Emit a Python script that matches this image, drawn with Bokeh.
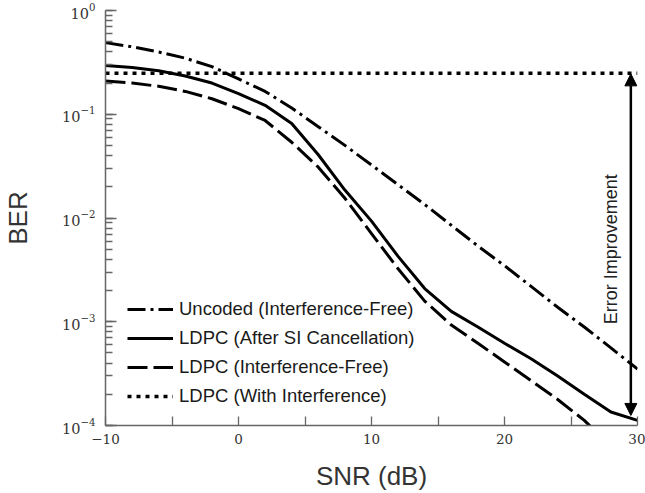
from bokeh.plotting import figure
from bokeh.models import (Range1d, FixedTicker, Legend, LegendItem, Arrow,
                          NormalHead, Label)
from bokeh.embed import file_html
from bokeh.resources import INLINE

# ---- data ----
snr = [-10, -8, -6, -4, -2, 0, 2, 4, 6, 8, 10, 12, 14, 16, 18, 20, 22, 24, 26, 28, 30]
uncoded = [0.490, 0.447, 0.398, 0.347, 0.288, 0.219, 0.166, 0.115, 0.0759, 0.0501,
           0.0324, 0.0209, 0.0135, 0.00851, 0.00537, 0.00347, 0.00219, 0.00138,
           8.9e-4, 5.6e-4, 3.5e-4]
ldpc_si = [0.295, 0.282, 0.263, 0.234, 0.200, 0.158, 0.122, 0.0813, 0.0407, 0.0186,
           0.00933, 0.00427, 0.00209, 0.00126, 8.9e-4, 6.2e-4, 4.4e-4, 3.0e-4,
           2.0e-4, 1.35e-4, 1.12e-4]
snr_free = [-10, -8, -6, -4, -2, 0, 2, 4, 6, 8, 10, 12, 14, 16, 18, 20, 22, 24, 26, 28]
ldpc_free = [0.209, 0.200, 0.186, 0.166, 0.141, 0.1135, 0.0871, 0.0537, 0.0309, 0.0155,
             0.00708, 0.00324, 0.00158, 9.3e-4, 6.2e-4, 4.1e-4, 2.7e-4, 1.78e-4,
             1.12e-4, 6.3e-5]
snr_int = [-10, 30]
ldpc_int = [0.248, 0.248]

labels = ["Uncoded (Interference-Free)", "LDPC (After SI Cancellation)",
          "LDPC (Interference-Free)", "LDPC (With Interference)"]
x_ticks = [-10, 0, 10, 20, 30]
x_minor = [-5, 5, 15, 25]
x_title = "SNR (dB)"
y_title = "BER"
arrow_x = 29.5
arrow_top = 0.245
arrow_bottom = 1.25e-4
note_text = "Error Improvement"
note_x = 28.0
note_y = 0.0050

p = figure(width=645, height=493, x_range=Range1d(-10, 30), y_range=Range1d(1e-4, 1),
           y_axis_type="log", output_backend="svg", toolbar_location=None,
           min_border_left=98, min_border_right=8, min_border_top=10, min_border_bottom=68)
p.grid.visible = False
p.outline_line_color = None
p.background_fill_color = "white"

lw = 3
r1 = p.line(snr, uncoded, line_color="black", line_width=lw, line_dash="18 5 3 5")
r2 = p.line(snr, ldpc_si, line_color="black", line_width=lw)
r3 = p.line(snr_free, ldpc_free, line_color="black", line_width=lw, line_dash="20 6")
r4 = p.line(snr_int, ldpc_int, line_color="black", line_width=3.5, line_dash="4 5")

# axes
for ax in (p.xaxis[0], p.yaxis[0]):
    ax.axis_line_color = "#666666"
    ax.axis_line_width = 1.5
    ax.major_tick_line_color = "#666666"
    ax.minor_tick_line_color = "#666666"
    ax.major_tick_line_width = 1.3
    ax.minor_tick_line_width = 1.3
    ax.major_tick_out = 0
    ax.minor_tick_out = 0
    ax.major_label_text_font = "DejaVu Serif"
    ax.major_label_text_color = "#333333"
    ax.axis_label_text_font = "Liberation Sans"
    ax.axis_label_text_font_size = "26px"
    ax.axis_label_text_font_style = "normal"
    ax.axis_label_text_color = "#333333"

p.xaxis.major_label_text_font_size = "13.5px"
p.yaxis.major_label_text_font_size = "14.5px"
p.xaxis.ticker = FixedTicker(ticks=x_ticks, minor_ticks=x_minor)
p.xaxis.major_label_overrides = {-10: "\u221210"}
p.xaxis.major_tick_in = 9
p.xaxis.minor_tick_in = 9
p.xaxis.major_label_standoff = 8
p.xaxis.axis_label = x_title
p.xaxis.axis_label_standoff = 14

p.yaxis.major_tick_in = 11
p.yaxis.minor_tick_in = 7
p.yaxis.major_label_standoff = 10
p.yaxis.axis_label = y_title
p.yaxis.axis_label_standoff = 26

# arrow + note
p.add_layout(Arrow(x_start=arrow_x, y_start=arrow_bottom, x_end=arrow_x, y_end=arrow_top,
                   line_color="black", line_width=2.5,
                   start=NormalHead(size=12, fill_color="black", line_color="black", line_width=1),
                   end=NormalHead(size=12, fill_color="black", line_color="black", line_width=1)))
p.add_layout(Label(x=note_x, y=note_y, text=note_text, angle=1.5708,
                   text_align="center", text_baseline="middle",
                   text_font="Liberation Sans", text_font_size="18px", text_color="#222222"))

legend = Legend(items=[LegendItem(label=labels[0], renderers=[r1]),
                       LegendItem(label=labels[1], renderers=[r2]),
                       LegendItem(label=labels[2], renderers=[r3]),
                       LegendItem(label=labels[3], renderers=[r4])],
                location=(22, 18), padding=0, margin=0, spacing=7,
                glyph_width=46, glyph_height=20, label_height=20, label_standoff=6,
                border_line_alpha=0, background_fill_alpha=0,
                label_text_font="Liberation Sans", label_text_font_size="18.5px",
                label_text_color="#1a1a1a")
p.add_layout(legend, "center")

open("out.html", "w").write(file_html(p, INLINE))
